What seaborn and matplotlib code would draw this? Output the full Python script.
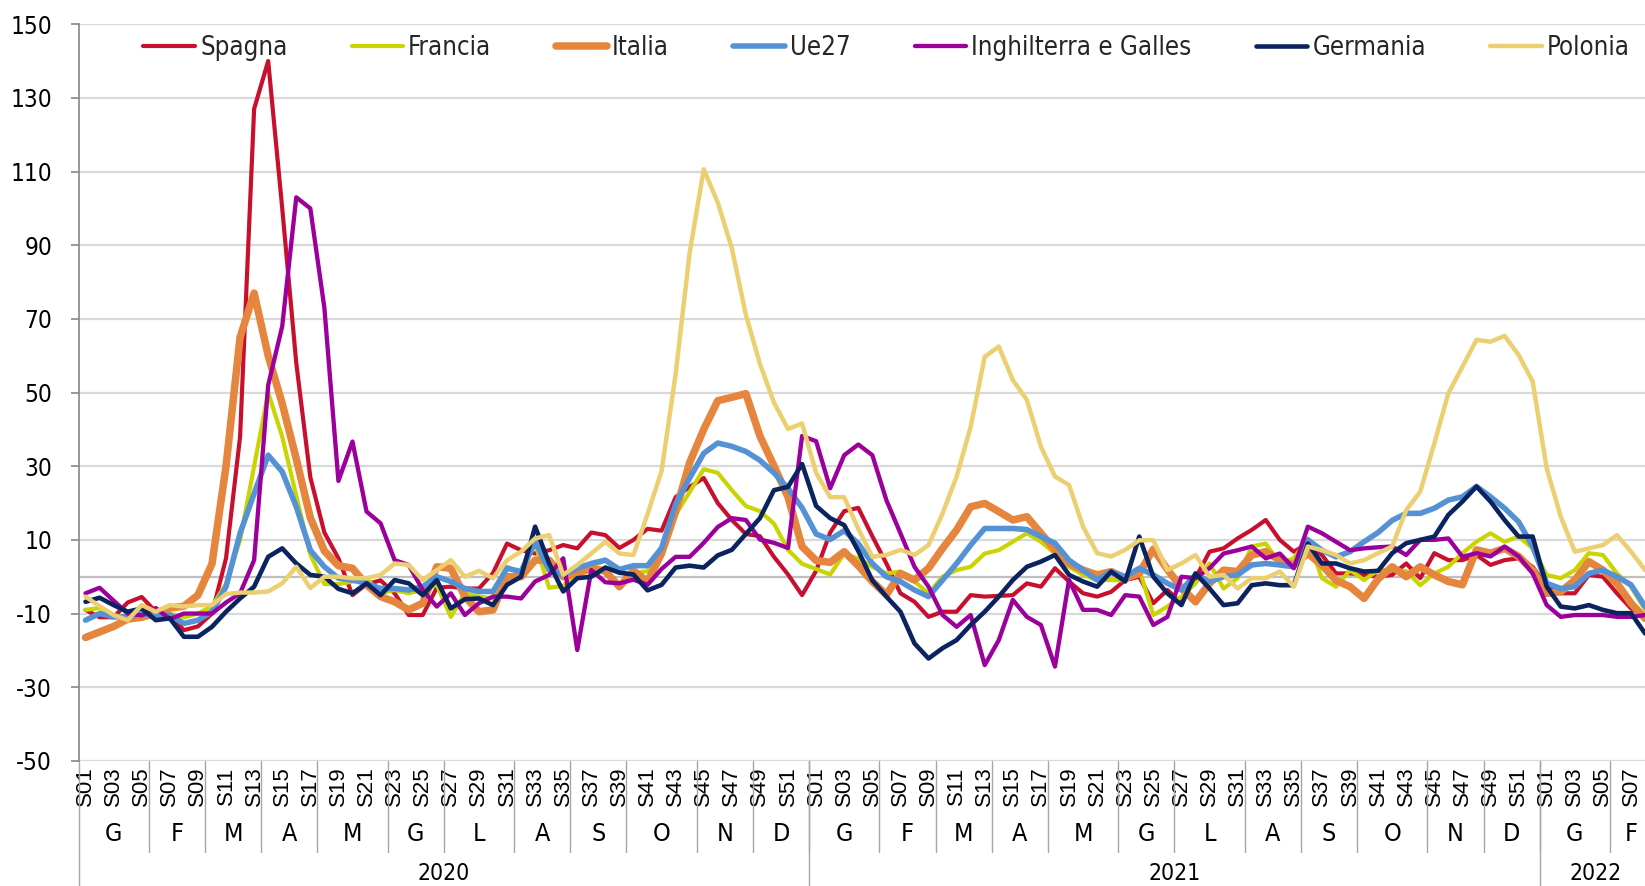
import os
import numpy as np
import matplotlib
matplotlib.use("Agg")
import matplotlib.pyplot as plt
import seaborn as sns
from matplotlib import font_manager
from matplotlib.font_manager import FontProperties

# Mortalita' in eccesso settimanale (%), 2020 S01 - 2022 S08
spagna = [
    -9, -11, -11, -7, -5.5, -9.5, -10.5, -14.5, -13.5, -10,
    5, 38, 127, 140, 100, 58, 27, 12, 5, -5,
    -2, -1, -4.5, -10.4, -10.4, -3, -2.7, -3.2, -3.2, 1,
    9, 7.2, 6.3, 7.2, 8.6, 7.7, 12, 11.3, 7.8, 10,
    13, 12.5, 21.6, 24.4, 26.8, 20, 15.4, 11.6, 11, 5.4,
    0.6, -5, 1.6, 12, 17.8, 18.7, 11, 3.6, -4.5, -6.8,
    -10.9, -9.5, -9.5, -5, -5.4, -5.2, -5, -1.8, -2.7, 2.3,
    -1.3, -4.5, -5.4, -4.1, -0.9, 0, -7.2, -3.6, -7.2, -0.4,
    6.8, 7.7, 10.4, 12.7, 15.4, 10, 6.8, 9, 5.9, 0.9,
    0.9, 0.5, 0, 0.5, 3.6, -0.4, 6.4, 4.5, 4.5, 5.9,
    3.2, 4.5, 5, 2.7, -2.7, -4.5, -4.5, 0.5, 0, -4.5,
    -8.6, -10.9]
francia = [
    -9, -8.5, -10.5, -11, -11, -10, -10, -11, -10, -8,
    -2, 10, 30, 50, 38, 22, 6, -2, -2, -1.3,
    -0.4, -4.5, -3.6, -4.5, -3.6, -2.2, -10.9, -4.5, -5.4, -5.9,
    2.7, 0.9, 9, -3, -2.5, 0.9, 2.7, 4.5, 1, 1,
    1.5, 6, 16.8, 23, 29.2, 28.2, 23.5, 19.2, 17.8, 14.4,
    7.3, 3.5, 2.1, 0.6, 6.3, 4.9, 2.7, 0.9, 1.4, -1.3,
    -4.5, 0, 1.8, 2.7, 6.3, 7.2, 9.5, 11.8, 9.5, 6.3,
    2.7, 0.5, -0.9, -0.9, -1, 2, -10.4, -8.1, -5.4, -1.8,
    3.6, -3.2, -0.4, 8.2, 9, 3.6, 5, 10.4, -0.4, -2.7,
    1.8, -0.9, 1.8, 1.8, 1.5, -2.3, 0.9, 2.7, 6.4, 9.5,
    11.8, 9.5, 10.9, 7.7, 0.5, -0.4, 1.8, 6.4, 5.9, 0.9,
    -2.7, -9]
italia = [
    -16.5, -15, -13.5, -11.5, -11, -10, -8.5, -8, -5, 3.5,
    30, 65, 77, 60, 47, 32, 16, 7, 3, 2.3,
    -2.2, -5.4, -6.8, -9, -7.2, 2.7, 2.3, -5.4, -9.5, -9,
    0, 0, 4.5, 4.5, 0, 0.9, 2.3, 1.5, -2.7, 1.6,
    -1.3, 6.3, 17.7, 31, 40, 47.8, 48.7, 49.7, 38.2, 30.1,
    21.6, 8.2, 4.4, 3.9, 6.8, 3, -1.3, -4.9, 0.9, -0.9,
    2.3, 7.7, 12.7, 19, 19.9, 17.7, 15.4, 16.3, 11.8, 7.3,
    3.6, 1.8, 0.5, 1.4, -0.4, 0.9, 7.5, 2, -3, -6.8,
    -1.8, 1.8, 1.4, 5.9, 6.8, 4.5, 3.2, 6.3, 3.2, -1,
    -2.7, -5.9, -0.6, 2.7, 0, 2.7, 0.5, -1.3, -2.2, 7.3,
    6.4, 7.7, 5.5, 1.8, -4.5, -4.1, -0.9, 4.1, 1.8, -1.8,
    -7.2, -11.3]
ue27 = [
    -11.8, -10, -10.9, -10.9, -10, -10.9, -10.4, -12.7, -11.8, -9.5,
    -2.7, 11.8, 22.6, 33, 28.5, 19, 7.2, 2.7, -0.4, -0.9,
    -1.8, -3.2, -3.2, -3.6, -2.7, 0, -1.3, -3.2, -4, -4,
    2.3, 1.4, 9.5, 1.8, 0.5, 2.3, 3.6, 4.5, 2, 3,
    3, 7.8, 19.7, 26.8, 33.5, 36.3, 35.4, 34, 31.6, 28.2,
    24, 18.7, 11.6, 10.1, 12.5, 9, 3.6, 0, -1.3, -3.6,
    -5.4, -0.9, 3.6, 8.6, 13.1, 13.1, 13.1, 12.8, 10.9, 9.1,
    4.5, 1.8, -0.9, 1.4, 0, 2.3, 0.5, -1.8, -3.6, 0.5,
    -1.3, 0, 0.5, 3.2, 3.6, 3.2, 2.7, 10, 7.2, 5.4,
    6.8, 9.5, 12, 15.3, 17.2, 17.2, 18.6, 20.8, 21.7, 24.5,
    21.7, 18.6, 14.9, 8.2, -1.8, -3.2, -2.7, 0.9, 1.8, 0,
    -2.2, -8.1]
inghilterra = [
    -4.5, -3, -6.5, -10, -10.5, -8.5, -11.5, -10, -10, -10,
    -7, -4.5, 4.5, 52, 68, 103, 100, 73, 26, 36.7,
    17.7, 14.5, 4.5, 3.2, -3.6, -8.1, -4.5, -10.4, -7.2, -5.4,
    -5.4, -5.9, -1.3, 0.5, 5, -19.9, 1.8, -1.5, -1.8, -0.8,
    -2.2, 2.1, 5.4, 5.4, 9.2, 13.5, 15.9, 15.4, 10.1, 9.2,
    7.8, 38.2, 36.8, 24, 33, 35.9, 33, 20.8, 11.8, 2.7,
    -2.7, -10.4, -13.6, -10.4, -24, -17.2, -6.3, -10.9, -13.1, -24.4,
    -0.9, -9, -9, -10.4, -5, -5.4, -13.1, -10.9, 0, -0.4,
    2.3, 6.3, 7.2, 8.2, 5, 6.3, 2.3, 13.6, 11.8, 9.5,
    7.2, 7.7, 8, 8.2, 5.9, 10, 10, 10.4, 5.4, 6.4,
    5.5, 8.2, 5.5, 0.9, -7.7, -10.9, -10.4, -10.4, -10.4, -10.9,
    -10.9, -10.4]
germania = [
    -6.8, -5.7, -7.7, -9.5, -8.6, -11.8, -11.3, -16.3, -16.3, -13.6,
    -9.5, -5.9, -2.7, 5.4, 7.7, 3.6, 0.5, 0, -3.3, -4.5,
    -1.8, -5, -0.9, -1.8, -5, -0.9, -8.6, -6.1, -5.9, -7.7,
    -2.2, 0, 13.6, 3.6, -4, -0.4, 0, 2.5, 1.1, 0.6,
    -3.7, -2.2, 2.5, 3, 2.5, 5.8, 7.3, 11.6, 15.9, 23.5,
    24.4, 30.6, 19.2, 15.9, 14, 7, -1, -5.4, -9.5, -18.1,
    -22.2, -19.4, -17.2, -13.1, -9.5, -5.4, -0.9, 2.7, 4.1, 5.9,
    0.5, -1.3, -2.7, 1.4, -1.3, 10.9, 0, -4.5, -7.7, 0.9,
    -3.2, -7.7, -7.2, -2.3, -1.8, -2.3, -2.3, 9, 3.6, 3.6,
    2.3, 1.4, 1.6, 6.4, 9.1, 10, 10.9, 16.8, 20.4, 24.5,
    20.4, 15.4, 10.9, 10.9, -2.7, -8.1, -8.6, -7.7, -9, -9.9,
    -9.9, -15.4]
polonia = [
    -5.4, -8, -10.4, -11.8, -7.7, -9.5, -7.7, -8.1, -7.7, -7.7,
    -4.7, -4.3, -4.3, -4, -1.8, 2.7, -3.1, 0, 0, -0.4,
    -0.4, 0.5, 3.6, 3.2, -0.9, 1.8, 4.5, 0, 1.6, -0.4,
    4.5, 6.8, 10.4, 11.3, 0.5, 3.2, 6.3, 9.5, 6.3, 5.9,
    17, 28.7, 55, 88, 110.6, 101.6, 89.2, 71.1, 57.8, 47.3,
    40.1, 41.6, 28.2, 21.6, 21.6, 13, 5.4, 5.9, 7.3, 5.9,
    8.6, 17.2, 27.2, 40.7, 59.7, 62.5, 53.4, 48, 35.3, 27.2,
    24.9, 13.6, 6.4, 5.5, 7.3, 9.9, 9.9, 1.8, 3.6, 5.9,
    0, 0.5, -3.2, -0.4, -0.4, 1.4, -2.7, 8.2, 7.2, 5.9,
    3.6, 4.5, 6.4, 8.2, 18.1, 23.1, 36.2, 49.8, 57, 64.3,
    63.8, 65.4, 60.2, 53, 29.4, 16.3, 6.8, 7.7, 8.6, 11.3,
    6.8, 1.8]

# asse delle categorie: settimane, mesi, anni
settimane = ["S%02d" % s for s in range(1, 53)] * 2 + ["S%02d" % s for s in range(1, 9)]
anni = ["2020", "2021", "2022"]
mesi_anno = [list("GFMAMGLASOND"), list("GFMAMGLASOND"), ["G", "F"]]
sett_mese = [[5, 4, 4, 4, 5, 4, 5, 4, 4, 5, 4, 4],
             [5, 4, 4, 4, 5, 4, 5, 4, 4, 5, 4, 4],
             [5, 3]]

serie = [
    ("Spagna", spagna, "#C8102E", 3.0),
    ("Francia", francia, "#C9D400", 3.0),
    ("Italia", italia, "#E6853E", 5.4),
    ("Ue27", ue27, "#5591D5", 4.0),
    ("Inghilterra e Galles", inghilterra, "#9B009B", 3.1),
    ("Germania", germania, "#0B2460", 3.3),
    ("Polonia", polonia, "#EBCF70", 3.2),
]


def font_stretto():
    # cerca un carattere sans "narrow"/"condensed" installato
    cand = []
    for f in font_manager.fontManager.ttflist:
        base = os.path.basename(f.fname).lower()
        if any(k in base for k in ("bold", "italic", "oblique", "light", "thin", "medium", "black", "semi")):
            continue
        if f.name == "Liberation Sans Narrow":
            cand.append((0, f.fname))
        elif "narrow" in base or "condensed" in base or str(f.stretch) in ("condensed", "semi-condensed"):
            if "mono" in base or "serif" in base:
                continue
            cand.append((1, f.fname))
    cand.sort()
    return cand[0][1] if cand else None


sns.set_theme(style="white")
plt.rcParams["font.family"] = ["Liberation Sans", "DejaVu Sans"]
percorso = font_stretto()
if percorso:
    fp = lambda size: FontProperties(fname=percorso, size=size)
    k = 1.0
else:
    fp = lambda size: FontProperties(family="Liberation Sans", size=size)
    k = 0.9

W, H = 1645, 886
fig = plt.figure(figsize=(W / 100, H / 100), dpi=100)
ax_h = 736.7
ax = fig.add_axes([78.5 / W, 125.1 / H, 1573.6 / W, ax_h / H])

x = np.arange(len(settimane))
for nome, valori, colore, lw in serie:
    sns.lineplot(x=x, y=valori, ax=ax, color=colore, linewidth=lw, label=nome,
                 solid_capstyle="round", solid_joinstyle="round")

ax.axhline(0, color="#BFBFBF", linewidth=1.6, zorder=1.5)
ax.set_ylim(-50, 150)
yt = list(range(-50, 151, 20))
ax.set_yticks(yt)
ax.set_yticklabels([str(v) for v in yt], fontproperties=fp(17.5 * k))
ax.grid(axis="y", color="#D9D9D9", linewidth=1.6)
ax.grid(axis="x", visible=False)
ax.set_axisbelow(True)
ax.tick_params(axis="y", left=True, length=6, width=1.2, color="#868686",
               pad=13, labelcolor="black")

ax.set_xlim(-0.5, len(settimane) - 0.5)
ax.set_xticks(x[::2])
ax.set_xticklabels(settimane[::2], rotation=90,
                   fontproperties=FontProperties(family="Liberation Sans", size=16))
ax.tick_params(axis="x", bottom=False, length=0, pad=4, labelcolor="black")

for s in ["top", "right", "bottom"]:
    ax.spines[s].set_visible(False)
ax.spines["left"].set_color("#868686")
ax.spines["left"].set_linewidth(1.2)

# etichette multilivello sotto l'asse
trans = ax.get_xaxis_transform()
y_mese_fine = -(852 - 760.9) / ax_h
y_anno_fine = -(886 - 760.9) / ax_h
y_mese_txt = -(834 - 760.9) / ax_h
y_anno_txt = -(873 - 760.9) / ax_h
sep = dict(transform=trans, clip_on=False, color="#A6A6A6", linewidth=1.0)

ax.plot([-0.5, -0.5], [0, y_anno_fine], **sep)
pos = 0
for anno, mesi, nsett in zip(anni, mesi_anno, sett_mese):
    inizio_anno = pos
    for m, n in zip(mesi, nsett):
        ax.text(pos + n / 2 - 0.5, y_mese_txt, m, transform=trans, ha="center",
                va="center", fontproperties=fp(18 * k), color="black")
        pos += n
        ax.plot([pos - 0.5, pos - 0.5], [0, y_mese_fine], **sep)
    ax.text((inizio_anno + pos) / 2 - 0.5, y_anno_txt, anno, transform=trans,
            ha="center", va="center", fontproperties=fp(16.5 * k), color="black")
    ax.plot([pos - 0.5, pos - 0.5], [0, y_anno_fine], **sep)

ax.legend(ncol=7, loc="center", bbox_to_anchor=(0.539, 0.946),
          bbox_transform=fig.transFigure, frameon=False, prop=fp(18.5 * k),
          handlelength=2.0, handletextpad=0.2, columnspacing=2.5,
          borderaxespad=0)

fig.savefig("out.png", dpi=100)
